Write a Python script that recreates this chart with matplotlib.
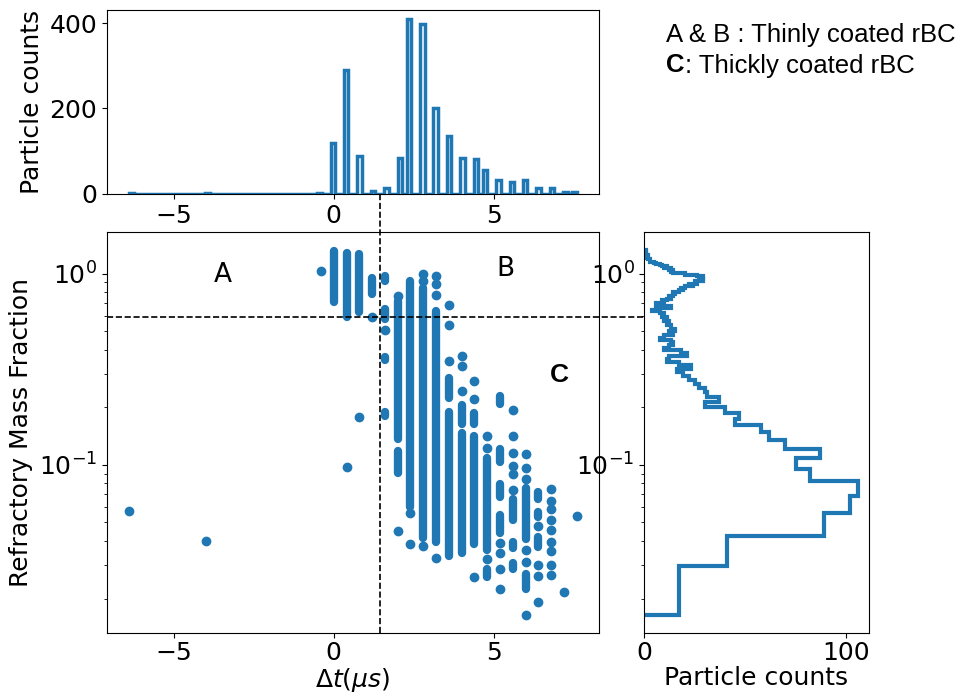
import numpy as np
import matplotlib
matplotlib.use("Agg")
import matplotlib.pyplot as plt

# discrete delta-t values and particle counts per value (top histogram)
dt_vals = [-6.4, -4.0, -0.4, 0.0, 0.4, 0.8, 1.2, 1.6, 2.0, 2.4, 2.8, 3.2,
           3.6, 4.0, 4.4, 4.8, 5.2, 5.6, 6.0, 6.4, 6.8, 7.2, 7.6]
dt_counts = [3, 3, 3, 120, 290, 90, 8, 15, 85, 410, 397, 200,
             135, 85, 82, 55, 33, 28, 33, 15, 13, 5, 5]

# refractory mass fraction histogram (100 linear bins)
rmf_min, rmf_max = 0.0164, 1.33
rmf_counts = [17, 41, 89, 102, 106, 82, 75, 87, 70, 62,
              58, 45, 47, 40, 30, 37, 31, 30, 27, 25,
              22, 19, 16, 23, 17, 11, 12, 21, 18, 10,
              12, 14, 13, 8, 10, 14, 12, 15, 13, 13,
              11, 12, 10, 11, 9, 10, 8, 4, 6, 13,
              8, 6, 10, 9, 11, 13, 12, 14, 15, 14,
              17, 19, 18, 20, 24, 22, 26, 25, 29, 27,
              29, 28, 29, 26, 20, 14, 13, 14, 12, 13,
              10, 11, 9, 8, 6, 5, 3, 3, 3, 2,
              2, 1, 1, 2, 1, 1, 1, 0, 1, 1]

# dense runs of particles in the scatter (column, low, high)
seg_x = [0.0, 0.4, 0.8, 1.2, 1.6, 1.6, 1.6, 1.6, 2.0, 2.0, 2.4, 2.8, 3.2,
         3.6, 3.6, 4.0, 4.0, 4.4, 4.4, 4.8, 4.8, 5.2, 5.2, 5.2, 5.2,
         5.6, 5.6, 5.6, 6.0, 6.0, 6.4, 6.4, 6.4]
seg_lo = [0.71, 0.59, 0.63, 0.78, 0.92, 0.58, 0.354, 0.18, 0.136, 0.091, 0.060, 0.0414, 0.0396,
          0.223, 0.0332, 0.163, 0.0345, 0.163, 0.0388, 0.0358, 0.0259, 0.208, 0.103, 0.0677, 0.0438,
          0.0515, 0.0366, 0.0287, 0.0411, 0.0225, 0.0664, 0.0535, 0.0373]
seg_hi = [1.32, 1.28, 1.27, 0.95, 0.97, 0.65, 0.367, 0.19, 0.72, 0.118, 0.916, 0.846, 0.64,
          0.284, 0.19, 0.206, 0.147, 0.187, 0.141, 0.109, 0.0285, 0.228, 0.121, 0.0795, 0.0546,
          0.0664, 0.0396, 0.0306, 0.0761, 0.027, 0.072, 0.0567, 0.0421]

# isolated particles
pt_x = [-6.4, -4.0, -0.4, 0.4, 0.8, 1.2, 1.6, 2.0, 2.0, 2.4, 2.4, 2.8, 2.8, 2.8,
        3.2, 3.2, 3.2, 3.2, 3.6, 3.6, 3.6, 4.0, 4.0, 4.0, 4.4, 4.4, 4.4,
        4.8, 4.8, 4.8, 5.2, 5.2, 5.2, 5.2, 5.6, 5.6, 5.6, 5.6, 5.6, 5.6,
        6.0, 6.0, 6.0, 6.0, 6.0, 6.0, 6.4, 6.4, 6.4, 6.4,
        6.8, 6.8, 6.8, 6.8, 6.8, 6.8, 6.8, 6.8, 6.8, 7.2, 7.6]
pt_y = [0.0573, 0.040, 1.03, 0.098, 0.177, 0.59, 0.51, 0.766, 0.045, 0.056, 0.0385, 1.0, 0.916, 0.0377,
        0.973, 0.88, 0.775, 0.0325, 0.689, 0.54, 0.35, 0.372, 0.33, 0.244, 0.275, 0.221, 0.0259,
        0.141, 0.123, 0.0321, 0.0389, 0.0345, 0.0287, 0.0225, 0.193, 0.141, 0.116, 0.099, 0.0892, 0.0741,
        0.114, 0.0963, 0.0842, 0.036, 0.031, 0.0164, 0.0477, 0.030, 0.0263, 0.0193,
        0.0751, 0.0645, 0.059, 0.0515, 0.0456, 0.0396, 0.0354, 0.030, 0.0266, 0.0217, 0.054]

dt_cut = 1.45
rmf_cut = 0.59

c = '#1f77b4'
fs = 18

fig = plt.figure(figsize=(9.65, 6.98), dpi=100)
ax_main = fig.add_axes([0.1106, 0.0927, 0.5102, 0.5754])
ax_top = fig.add_axes([0.1106, 0.7221, 0.5102, 0.2636], sharex=ax_main)
ax_right = fig.add_axes([0.6677, 0.0927, 0.2325, 0.5754], sharey=ax_main)

# scatter
ax_main.set_yscale('log')
ax_main.vlines(seg_x, seg_lo, seg_hi, colors=c, linewidth=6, capstyle='round')
ax_main.scatter(pt_x, pt_y, s=36, color=c)
ax_main.set_xticks([-5, 0, 5])
ax_main.set_xlabel(r'$\Delta t(\mu s)$', fontsize=fs, labelpad=1)
ax_main.set_ylabel('Refractory Mass Fraction', fontsize=fs)
ax_main.tick_params(labelsize=fs)
ax_main.tick_params(axis='x', pad=2)
ax_main.axvline(dt_cut, 0, (633.3 - 10) / 401.6, color='k', ls='--', lw=1.2, clip_on=False)
ax_main.axhline(rmf_cut, 0, (868.7 - 106.7) / 492.3, color='k', ls='--', lw=1.2, clip_on=False)
ax_main.text(-3.48, 0.98, 'A', fontsize=19, ha='center', va='center')
ax_main.text(5.38, 1.053, 'B', fontsize=19, ha='center', va='center')
ax_main.text(7.06, 0.295, 'C', fontsize=19, fontweight='bold', family='Liberation Sans',
             ha='center', va='center')

# top histogram
ax_top.hist(dt_vals, bins=100, weights=dt_counts, histtype='step', color=c, lw=2.5)
ax_top.set_ylabel('Particle counts', fontsize=fs)
ax_top.set_yticks([0, 200, 400])
ax_top.tick_params(labelsize=fs)

# right histogram
rmf_edges = np.linspace(rmf_min, rmf_max, len(rmf_counts) + 1)
rmf_centers = (rmf_edges[:-1] + rmf_edges[1:]) / 2
ax_right.hist(rmf_centers, bins=rmf_edges, weights=rmf_counts, histtype='step',
              orientation='horizontal', color=c, lw=3)
ax_right.set_xlabel('Particle counts', fontsize=fs, labelpad=1)
ax_right.set_xticks([0, 100])
ax_right.tick_params(labelsize=fs)
ax_right.tick_params(axis='x', pad=2)

fig.text(666 / 965, 1 - 35 / 698, 'A & B : Thinly coated rBC', fontsize=18.5,
         family='Liberation Sans', va='center')
fig.text(666 / 965, 1 - 65.5 / 698, 'C', fontsize=18.5, fontweight='bold',
         family='Liberation Sans', va='center')
fig.text(685 / 965, 1 - 65.5 / 698, ': Thickly coated rBC', fontsize=18.5,
         family='Liberation Sans', va='center')

fig.savefig('out.png', dpi=100)
